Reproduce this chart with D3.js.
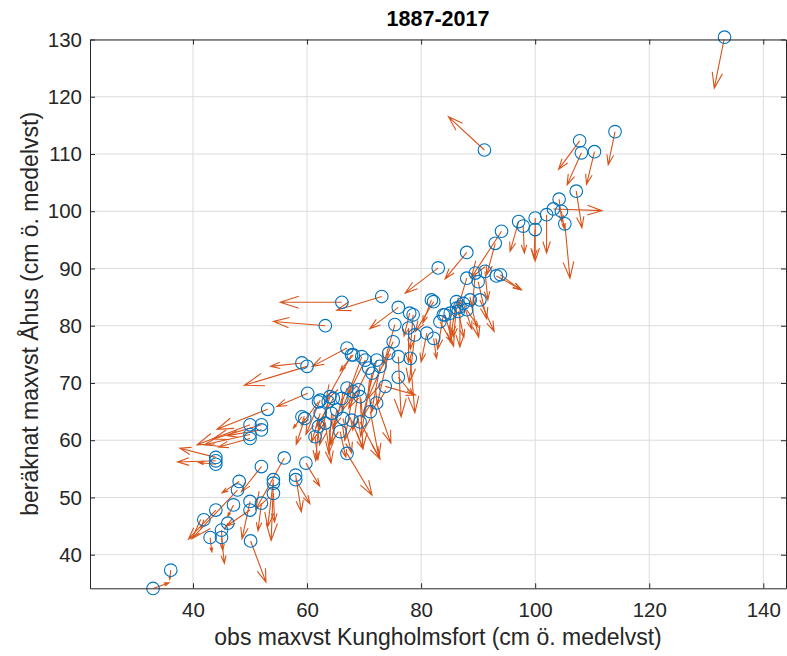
<!DOCTYPE html>
<html>
<head>
<meta charset="UTF-8" />
<title>1887-2017</title>
<script src="https://cdn.jsdelivr.net/npm/d3@7"></script>
<style>
  body, html { margin:0; padding:0; background:#fff; }
  svg { display:block; font-family: "Liberation Sans", Arial, sans-serif; }
  .grid line { stroke:#dcdcdc; }
</style>
</head>
<body>
<svg id="chart" width="787" height="656"></svg>
<script>
// observed max level Kungholmsfort (x), computed max level Åhus (y)
const obs = [33.0, 36.1, 41.9, 43.0, 45.0, 45.0, 46.1, 44.0, 47.1, 50.0, 52.0, 50.0, 50.1, 48.1, 47.8, 52.0,
  56.0, 59.8, 54.1, 54.1, 54.1, 58.0, 58.0, 44.0, 44.0, 44.0, 50.0, 52.0, 50.0, 52.0, 50.0, 53.1, 59.1, 60.1,
  66.1, 73.1, 63.2, 67.0, 68.1, 59.1, 60.0, 76.0, 82.2, 83.0, 88.0, 94.1, 93.0,
  78.0, 78.6, 75.4, 77.8, 81.0, 82.2, 83.3, 84.2, 86.2, 87.4, 78.9, 67.8, 69.6, 70.2, 72.2, 72.8, 70.8, 71.4,
  75.1, 74.3, 76.0, 78.1, 76.0, 73.7, 67.0, 68.1, 69.0, 69.3, 72.2, 71.1, 64.6, 66.1, 62.3, 63.7, 65.2, 62.3,
  64.3, 66.3, 67.8, 69.3, 59.6, 62.0, 63.2, 61.4, 65.8, 67.0, 64.0, 62.0,
  88.0, 89.5, 91.2, 93.2, 90.0, 81.8, 86.2, 86.8, 88.6, 90.3, 83.9, 85.1, 86.5, 88.0,
  97.1, 97.9, 100.0, 100.0, 102.0, 103.2, 104.2, 104.6, 105.2, 107.2, 107.8, 108.1, 110.4, 114.0, 93.9,
  133.2, 91.1];
const calc = [34.1, 37.3, 46.1, 43.0, 43.0, 44.3, 45.5, 47.8, 48.7, 49.3, 49.0, 47.8, 42.4, 52.8, 51.3, 55.4,
  56.9, 56.0, 53.1, 52.5, 50.7, 53.9, 53.1, 57.0, 56.4, 55.8, 62.7, 62.7, 61.0, 61.8, 60.3, 65.4, 64.1, 68.2,
  84.1, 85.1, 80.0, 76.1, 74.9, 73.5, 72.9, 83.2, 84.2, 90.1, 92.8, 96.5, 94.4,
  82.2, 81.9, 80.2, 79.6, 78.7, 77.8, 80.7, 81.9, 83.1, 83.9, 78.4, 74.9, 74.6, 74.0, 74.0, 72.9, 72.6, 71.7,
  77.2, 75.2, 74.6, 74.3, 71.0, 69.4, 69.1, 68.5, 68.8, 67.6, 66.5, 65.0, 67.3, 67.3, 67.0, 66.7, 65.3, 64.7,
  64.7, 63.8, 63.5, 63.2, 63.8, 62.4, 63.0, 60.6, 61.5, 57.7, 67.6, 66.7,
  88.3, 89.2, 89.5, 88.7, 87.7, 84.5, 84.2, 83.3, 84.5, 84.5, 81.9, 82.2, 82.5, 82.8,
  98.2, 97.4, 98.8, 96.8, 99.4, 100.4, 102.1, 100.0, 97.8, 103.5, 112.3, 110.2, 110.4, 113.9, 88.9,
  130.4, 110.7];
// arrow components
const du = [2.8, -0.2, -0.5, 0.3, 0.5, 0.2, -0.5, -4.8, -1.0, -1.4, -0.6, -4.1, 2.7, -3.0, -8.0, -3.5,
  -5.0, 2.4, -1.0, -0.4, 0.2, 1.0, 2.5, -6.3, -6.7, -3.0, -9.3, -8.5, -8.0, -6.0, -5.5, -8.9, -1.5, -5.4,
  -10.8, -7.9, -9.1, -6.1, -2.3, -5.5, -11.0, -5.0, -3.2, -5.8, -3.8, -5.3, -1.5,
  -1.0, -0.5, -2.0, 0.0, -1.0, 0.5, 2.0, 1.5, -0.5, 1.5, -1.0, -4.5, -3.5, -3.0, -2.5, -1.5, -3.5, -2.0,
  -4.5, -2.0, 0.5, 0.8, 2.6, 5.3, -2.5, -1.5, -1.0, 0.5, 2.5, 1.5, -3.0, -2.0, -2.5, -1.5, -1.0, -1.5,
  -0.5, 1.5, 2.0, 3.5, -1.5, -0.5, 1.0, 0.5, 1.0, 4.4, -2.0, -3.0,
  -1.5, -0.5, 0.5, 4.4, 1.5, -1.5, -1.0, 0.0, 1.5, 2.5, -1.0, 0.0, 1.0, 2.0,
  -1.5, 0.2, 0.0, -0.2, 0.0, 8.5, 0.5, 0.5, 0.9, 1.0, -3.7, -2.5, -1.4, -1.2, 3.5,
  -1.8, -6.3];
const dv = [1.0, -1.6, -1.5, -2.5, -4.5, -3.5, -1.0, -5.1, -2.0, -6.5, -4.8, -2.8, -7.2, -2.0, -8.5, -4.4,
  -9.0, -4.0, -8.2, -10.0, -5.0, -6.4, -4.2, 1.6, -0.2, 0.3, -3.5, -2.5, -1.8, -1.0, -1.5, -3.5, -2.0, -2.3,
  0.0, -2.4, 0.75, -3.2, -2.8, -0.6, -3.3, -3.7, -5.2, -4.4, -4.6, -8.1, -5.5,
  -4.0, -6.0, -7.0, -6.0, -5.0, -3.5, -3.5, -5.5, -5.0, -4.5, -8.3, -8.0, -9.5, -6.0, -10.0, -8.0, -7.0, -11.0,
  -10.0, -9.0, -10.5, -9.5, -3.1, -1.5, -7.0, -8.5, -7.0, -9.0, -7.0, -8.0, -5.0, -8.0, -6.0, -7.5, -6.0, -5.0,
  -7.0, -6.0, -5.0, -6.5, -4.5, -6.0, -7.0, -4.0, -4.5, -7.3, -6.0, -4.0,
  -5.0, -6.0, -5.0, -2.4, -6.5, -4.0, -6.0, -7.0, -6.5, -5.5, -6.0, -5.0, -4.5, -3.0,
  -5.2, -4.7, -7.5, -5.0, -6.7, -0.3, -4.0, -3.0, -9.5, -6.4, -5.0, -5.6, -5.7, -5.8, -2.6,
  -8.9, 5.8];
const xTicks = [40, 60, 80, 100, 120, 140];
const yTicks = [40, 50, 60, 70, 80, 90, 100, 110, 120, 130];

const L = 90, R = 786, T = 39.5, B = 588.3;
const svg = d3.select('#chart');
const x = d3.scaleLinear().domain([21.94, 143.98]).range([L, R]);
const y = d3.scaleLinear().domain([34.13, 130]).range([B, T]);

// grid
const grid = svg.append('g').attr('class', 'grid');
grid.selectAll('.gx').data(xTicks).join('line')
  .attr('x1', d => x(d)).attr('x2', d => x(d)).attr('y1', T).attr('y2', B);
grid.selectAll('.gy').data(yTicks).join('line')
  .attr('y1', d => y(d)).attr('y2', d => y(d)).attr('x1', L).attr('x2', R);

svg.append('clipPath').attr('id', 'clip')
  .append('rect').attr('x', L).attr('y', T).attr('width', R - L).attr('height', B - T);

const plot = svg.append('g').attr('clip-path', 'url(#clip)');

// quiver arrows
const pts = obs.map((d, i) => ({ x: obs[i], y: calc[i], u: du[i], v: dv[i] }));
const arrowPath = d => {
  const x0 = x(d.x), y0 = y(d.y), x1 = x(d.x + d.u), y1 = y(d.y + d.v);
  const ux = x1 - x0, uy = y1 - y0;
  const a = 0.3, b = 0.33;
  const h1x = x1 - a * (ux + b * uy), h1y = y1 - a * (uy - b * ux);
  const h2x = x1 - a * (ux - b * uy), h2y = y1 - a * (uy + b * ux);
  return `M${x0},${y0}L${x1},${y1}M${h1x},${h1y}L${x1},${y1}L${h2x},${h2y}`;
};
plot.selectAll('path.q').data(pts).join('path')
  .attr('class', 'q')
  .attr('d', arrowPath)
  .attr('fill', 'none')
  .attr('stroke', '#D95319')
  .attr('stroke-width', 1.1);

// markers
svg.append('g').selectAll('circle').data(pts).join('circle')
  .attr('cx', d => x(d.x)).attr('cy', d => y(d.y)).attr('r', 6.3)
  .attr('fill', 'none').attr('stroke', '#0072BD').attr('stroke-width', 1.1);

// axes
const ax = svg.append('g').attr('transform', `translate(0,${B})`)
  .call(d3.axisBottom(x).tickValues(xTicks).tickSizeInner(-5).tickSizeOuter(0).tickPadding(14));
const ay = svg.append('g').attr('transform', `translate(${L},0)`)
  .call(d3.axisLeft(y).tickValues(yTicks).tickSizeInner(-5).tickSizeOuter(0).tickPadding(8));
const at = svg.append('g').attr('transform', `translate(0,${T})`)
  .call(d3.axisTop(x).tickValues(xTicks).tickSizeInner(-5).tickSizeOuter(0).tickFormat(''));
const ar = svg.append('g').attr('transform', `translate(${R},0)`)
  .call(d3.axisRight(y).tickValues(yTicks).tickSizeInner(-5).tickSizeOuter(0).tickFormat(''));
[ax, ay, at, ar].forEach(g => {
  g.select('.domain').attr('stroke', '#262626');
  g.selectAll('.tick line').attr('stroke', '#262626');
  g.selectAll('.tick text').style('font-size', '20.5px').attr('fill', '#262626');
});

// labels
svg.append('text').attr('x', 438).attr('y', 26).attr('text-anchor', 'middle')
  .style('font-size', '21.5px').style('font-weight', 'bold').attr('fill', '#000').text('1887-2017');
svg.append('text').attr('x', 438).attr('y', 645).attr('text-anchor', 'middle')
  .style('font-size', '23px').attr('fill', '#262626').text('obs maxvst Kungholmsfort (cm ö. medelvst)');
svg.append('text').attr('transform', `translate(38,${(T + B) / 2}) rotate(-90)`).attr('text-anchor', 'middle')
  .style('font-size', '23px').attr('fill', '#262626').text('beräknat maxvst Åhus (cm ö. medelvst)');
</script>
</body>
</html>
